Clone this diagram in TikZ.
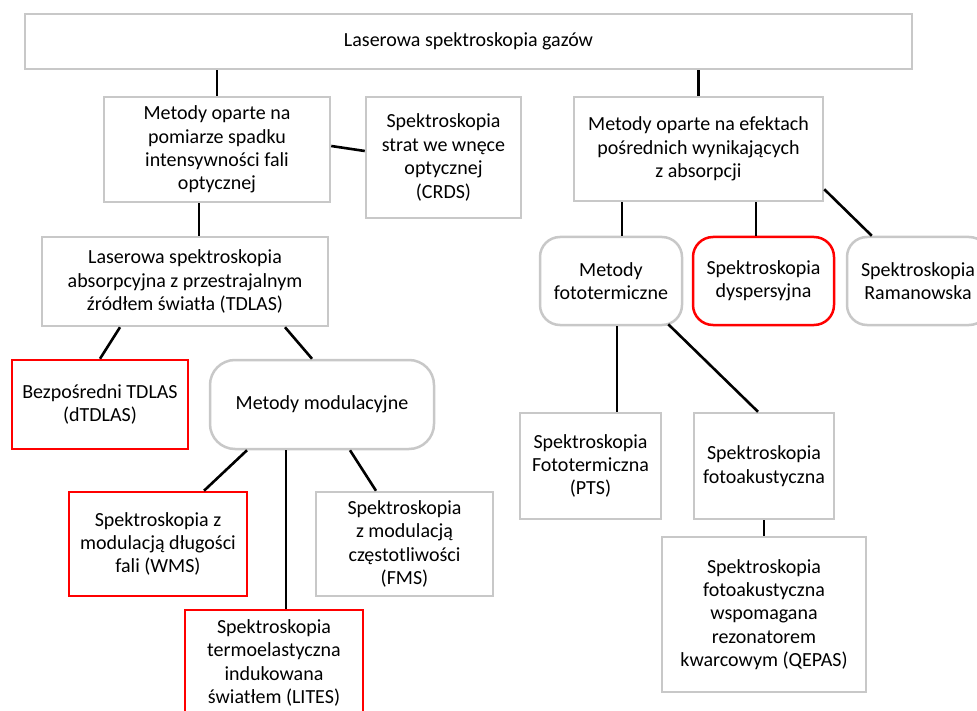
\documentclass[tikz,border=0pt]{standalone}
\usepackage{fontspec}
\setmainfont{Carlito}
\definecolor{boxgray}{RGB}{200,200,200}
\definecolor{boxred}{RGB}{255,0,0}
\begin{document}
\begin{tikzpicture}[x=1pt,y=-1pt,
  box/.style={draw=boxgray, line width=2.5pt, fill=white, align=center, inner sep=0pt,
    font=\fontsize{20}{23.4}\selectfont, text=black},
  redbox/.style={box, draw=boxred},
  rbox/.style={box, rounded corners=20pt},
  rredbox/.style={redbox, rounded corners=20pt},
  link/.style={draw=black, line width=2.6pt}]
\useasboundingbox (0,0) rectangle (977,711);

\node[box, minimum width=887pt, minimum height=55pt] (top) at (468.5,41.5) {Laserowa spektroskopia gazów};
\node[box, minimum width=226pt, minimum height=105pt] (A) at (217,149.5) {Metody oparte na\\pomiarze spadku\\intensywności fali\\optycznej};
\node[box, minimum width=155pt, minimum height=121pt] (crds) at (443.5,157.5) {Spektroskopia\\strat we wnęce\\optycznej\\(CRDS)};
\node[box, minimum width=249pt, minimum height=104pt] (B) at (698.5,149) {Metody oparte na efektach\\pośrednich wynikających\\z absorpcji};
\node[box, minimum width=286pt, minimum height=89pt] (tdlas) at (185,281.5) {Laserowa spektroskopia\\absorpcyjna z przestrajalnym\\źródłem światła (TDLAS)};
\node[rbox, minimum width=142pt, minimum height=88pt] (ft) at (611,281) {Metody\\fototermiczne};
\node[rredbox, minimum width=141pt, minimum height=88pt] (dys) at (763.5,281) {Spektroskopia\\dyspersyjna};
\node[rbox, minimum width=142pt, minimum height=88pt] (ram) at (918,281) {Spektroskopia\\Ramanowska};
\node[redbox, minimum width=176pt, minimum height=89pt] (dt) at (100,404.5) {Bezpośredni TDLAS\\(dTDLAS)};
\node[box, rounded corners=25pt, minimum width=224pt, minimum height=89pt] (mod) at (322,404.5) {Metody modulacyjne};
\node[box, minimum width=141pt, minimum height=106pt] (pts) at (590.5,466) {Spektroskopia\\Fototermiczna\\(PTS)};
\node[box, minimum width=140pt, minimum height=106pt] (pa) at (764,466) {Spektroskopia\\fotoakustyczna};
\node[box, minimum width=204pt, minimum height=155pt] (qepas) at (764,614.5) {Spektroskopia\\fotoakustyczna\\wspomagana\\rezonatorem\\kwarcowym (QEPAS)};
\node[redbox, minimum width=178pt, minimum height=104pt] (wms) at (158,544) {Spektroskopia z\\modulacją długości\\fali (WMS)};
\node[box, minimum width=177pt, minimum height=104pt] (fms) at (404.5,544) {Spektroskopia\\z modulacją\\częstotliwości\\(FMS)};
\node[redbox, minimum width=178pt, minimum height=106pt] (lites) at (274,663) {Spektroskopia\\termoelastyczna\\indukowana\\światłem (LITES)};

\draw[link] (A.north) -- (A.north |- top.south);
\draw[link] (B.north) -- (B.north |- top.south);
\draw[link] ([yshift=3.5pt]A.east) -- ([yshift=6.5pt]crds.west);
\draw[link] ([xshift=-18pt]A.south) -- ([xshift=-18pt]A.south |- tdlas.north);
\draw[link] ([xshift=11pt]ft.north) -- ([xshift=11pt]ft.north |- B.south);
\draw[link] ([xshift=-7.5pt]dys.north) -- ([xshift=-7.5pt]dys.north |- B.south);
\draw[link] ([yshift=13pt]B.south east) -- ([xshift=26pt]ram.north west);
\draw[link] ([xshift=-65pt]tdlas.south) -- (dt.north);
\draw[link] ([xshift=100pt]tdlas.south) -- ([xshift=-10pt]mod.north);
\draw[link] ([xshift=-75pt]mod.south) -- ([xshift=46pt]wms.north);
\draw[link] ([xshift=-36pt]mod.south) -- ([xshift=-36pt]mod.south |- lites.north);
\draw[link] ([xshift=28pt]mod.south) -- ([xshift=-28.5pt]fms.north);
\draw[link] ([xshift=6pt]ft.south) -- ([xshift=6pt]ft.south |- pts.north);
\draw[link] ([xshift=-15pt,yshift=2pt]ft.south east) -- ([xshift=-6pt]pa.north);
\draw[link] (pa.south) -- (qepas.north);
\end{tikzpicture}
\end{document}
